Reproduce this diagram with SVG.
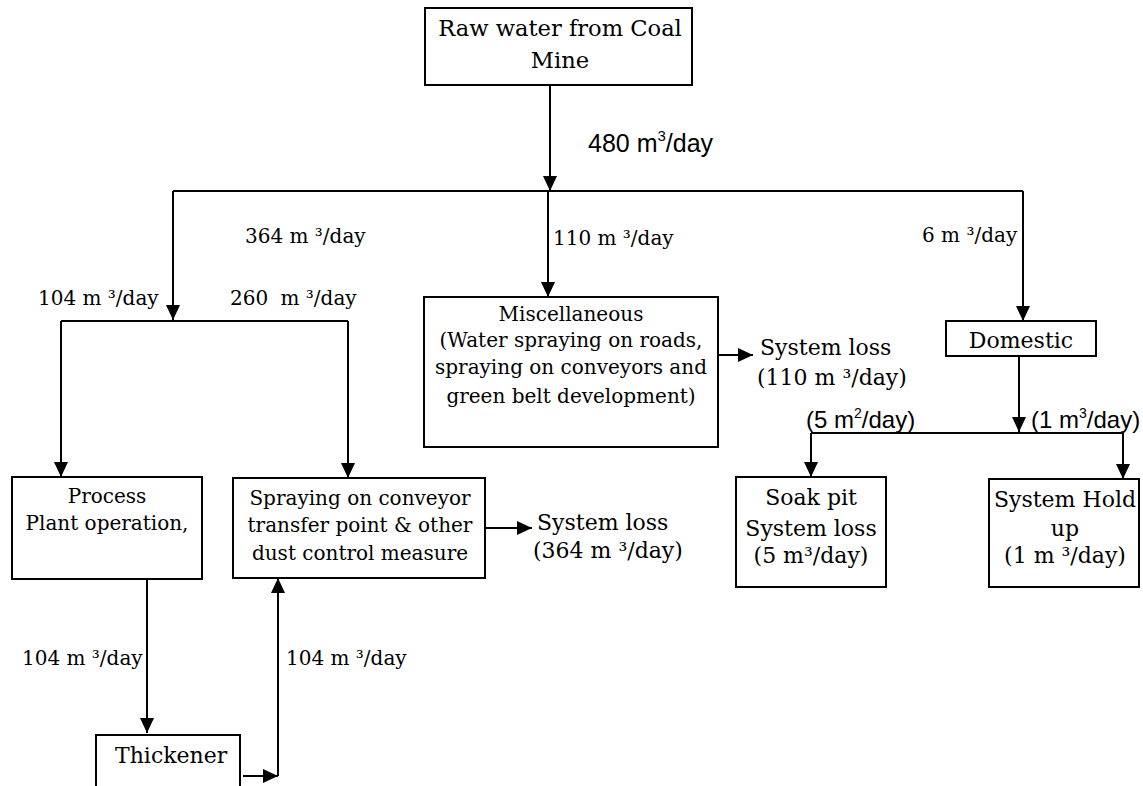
<svg xmlns="http://www.w3.org/2000/svg" width="1143" height="786" viewBox="0 0 1143 786">
<style>
.box{fill:#fff;stroke:#000;stroke-width:2}
.t{font-family:"DejaVu Serif","Liberation Serif",serif;font-size:20px;fill:#000}
.tl{font-family:"DejaVu Serif","Liberation Serif",serif;font-size:22px;fill:#000}
.tx{font-family:"DejaVu Serif","Liberation Serif",serif;font-size:22.6px;fill:#000}
.s{font-family:"Liberation Sans",Arial,sans-serif;font-size:24px;fill:#000}
.sx{font-family:"Liberation Sans",Arial,sans-serif;font-size:25px;fill:#000}
.c{stroke:#000;stroke-width:2;fill:none}
.mid{text-anchor:middle}
</style>
<defs>
<marker id="ah" markerUnits="userSpaceOnUse" markerWidth="15" markerHeight="14" refX="15" refY="7" orient="auto">
<path d="M0,0 L15,7 L0,14 Z" fill="#000"/>
</marker>
</defs>
<rect width="1143" height="786" fill="#fff"/>
<g id="connectors">
<path class="c" d="M550,85 V191" marker-end="url(#ah)"/>
<path class="c" d="M173,191 H1023"/>
<path class="c" d="M173,191 V320" marker-end="url(#ah)"/>
<path class="c" d="M61,321 H348"/>
<path class="c" d="M61,321 V477" marker-end="url(#ah)"/>
<path class="c" d="M348,321 V478" marker-end="url(#ah)"/>
<path class="c" d="M548,191 V297" marker-end="url(#ah)"/>
<path class="c" d="M1023,191 V321" marker-end="url(#ah)"/>
<path class="c" d="M1019,356 V432" marker-end="url(#ah)"/>
<path class="c" d="M811,433 H1123"/>
<path class="c" d="M811,433 V477" marker-end="url(#ah)"/>
<path class="c" d="M1123,433 V479" marker-end="url(#ah)"/>
<path class="c" d="M718,355 H753" marker-end="url(#ah)"/>
<path class="c" d="M485,528 H532" marker-end="url(#ah)"/>
<path class="c" d="M147,579 V733" marker-end="url(#ah)"/>
<path class="c" d="M243,776 H278" marker-end="url(#ah)"/>
<path class="c" d="M278,776 V578" marker-end="url(#ah)"/>
</g>
<g id="labels">
<text class="sx" x="588" y="152">480 m<tspan style="font-size:15px" dy="-11">3</tspan><tspan dy="11">/day</tspan></text>
<text class="t" x="245" y="243">364 m ³/day</text>
<text class="t" x="553" y="245">110 m ³/day</text>
<text class="t" x="922" y="242">6 m ³/day</text>
<text class="t" x="38" y="305">104 m ³/day</text>
<text class="t" x="230" y="305">260 <tspan dx="6">m ³/day</tspan></text>
<text class="t" x="22" y="665">104 m ³/day</text>
<text class="t" x="286" y="665">104 m ³/day</text>
<text class="s" x="806" y="428">(5 m<tspan style="font-size:14px" dy="-10">2</tspan><tspan dy="10">/day)</tspan></text>
<text class="s" x="1031" y="428">(1 m<tspan style="font-size:14px" dy="-10">3</tspan><tspan dy="10">/day)</tspan></text>
</g>
<g id="raw">
<rect class="box" x="425" y="8" width="267" height="77"/>
<text class="tx mid" x="560" y="36">Raw water from Coal</text>
<text class="tx mid" x="560" y="68">Mine</text>
</g>
<g id="misc">
<rect class="box" x="424" y="297" width="294" height="150"/>
<text class="t mid" x="571" y="321">Miscellaneous</text>
<text class="t mid" x="571" y="347">(Water spraying on roads,</text>
<text class="t mid" x="571" y="374">spraying on conveyors and</text>
<text class="t mid" x="571" y="403">green belt development)</text>
</g>
<g id="loss-misc">
<text class="tl" x="760" y="355">System loss</text>
<text class="tl" x="757" y="385">(110 m ³/day)</text>
</g>
<g id="domestic">
<rect class="box" x="946" y="321" width="150" height="35"/>
<text class="tl mid" x="1021" y="348">Domestic</text>
</g>
<g id="soak">
<rect class="box" x="736" y="477" width="150" height="110"/>
<text class="tl mid" x="811" y="505">Soak pit</text>
<text class="tl mid" x="811" y="536">System loss</text>
<text class="tl mid" x="811" y="563">(5 m³/day)</text>
</g>
<g id="holdup">
<rect class="box" x="989" y="479" width="150" height="108"/>
<text class="tl mid" x="1065" y="507">System Hold</text>
<text class="tl mid" x="1065" y="536">up</text>
<text class="tl mid" x="1065" y="563">(1 m ³/day)</text>
</g>
<g id="process">
<rect class="box" x="12" y="477" width="190" height="102"/>
<text class="t mid" x="107" y="503">Process</text>
<text class="t mid" x="107" y="530">Plant operation,</text>
</g>
<g id="spraying">
<rect class="box" x="233" y="478" width="252" height="100"/>
<text class="t mid" x="360" y="505">Spraying on conveyor</text>
<text class="t mid" x="360" y="532">transfer point &amp; other</text>
<text class="t mid" x="360" y="560">dust control measure</text>
</g>
<g id="loss-spray">
<text class="tl" x="537" y="530">System loss</text>
<text class="tl" x="533" y="558">(364 m ³/day)</text>
</g>
<g id="thickener">
<rect class="box" x="96" y="735" width="144" height="70"/>
<text class="tl" x="115" y="763">Thickener</text>
</g>
</svg>
